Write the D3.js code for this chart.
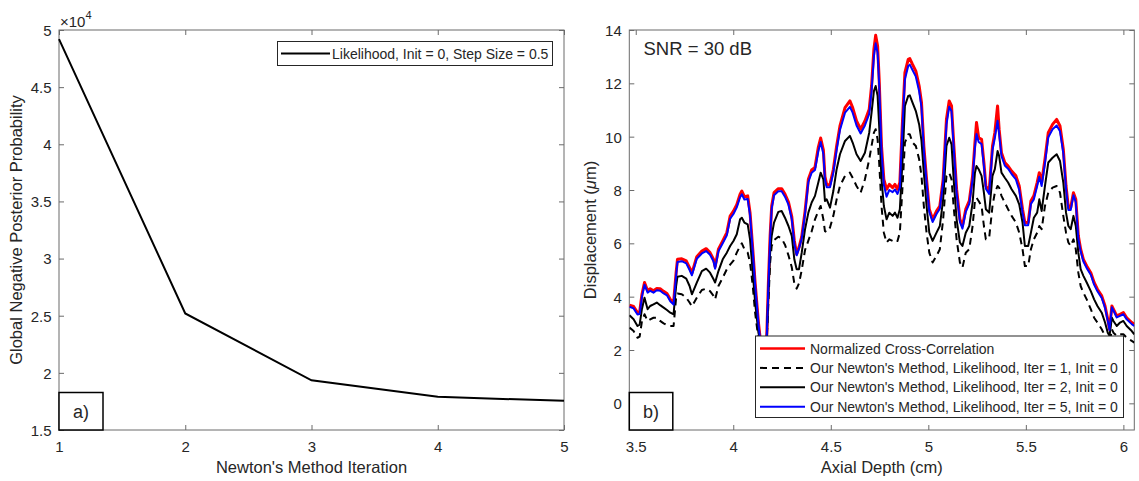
<!DOCTYPE html>
<html><head><meta charset="utf-8">
<script src="https://cdn.jsdelivr.net/npm/d3@7"></script>
<style>
body{margin:0;background:#fff}
text{font-family:"Liberation Sans",Arial,Helvetica,sans-serif;fill:#262626}
</style>
</head><body>
<svg id="chart" width="1139" height="481"></svg>
<script>
// ---------- Panel a) data ----------
const iterations = [1, 2, 3, 4, 5];
const negPosterior = [4.92, 2.52, 1.935, 1.79, 1.755]; // x 10^4
const aXTicks = [1, 2, 3, 4, 5];
const aYTicks = [1.5, 2, 2.5, 3, 3.5, 4, 4.5, 5];
const aLegend = ["Likelihood, Init = 0, Step Size = 0.5"];

// ---------- Panel b) data ----------
const depth = [3.468,3.489,3.509,3.520,3.532,3.545,3.561,3.574,3.591,3.608,3.625,3.643,3.660,3.677,3.694,3.707,3.714,3.736,3.759,3.776,3.788,3.813,3.839,3.861,3.881,3.899,3.907,3.924,3.946,3.967,3.984,4.001,4.018,4.035,4.044,4.057,4.074,4.086,4.100,4.112,4.129,4.137,4.150,4.160,4.172,4.180,4.189,4.197,4.209,4.231,4.248,4.265,4.283,4.300,4.313,4.325,4.337,4.351,4.368,4.385,4.402,4.419,4.436,4.448,4.462,4.470,4.479,
4.496,4.513,4.530,4.547,4.573,4.598,4.612,4.632,4.653,4.675,4.697,4.709,4.721,4.730,4.740,4.748,4.760,4.772,4.786,4.800,4.817,4.829,4.842,4.854,4.868,4.880,4.897,4.905,4.919,4.936,4.953,4.965,4.977,4.991,5.005,5.022,5.042,5.059,5.076,5.093,5.107,5.119,5.131,5.145,5.162,5.175,5.192,5.210,5.227,5.239,5.247,5.258,5.273,5.285,5.295,5.312,5.329,5.341,5.355,5.363,5.375,5.392,5.409,5.427,5.449,5.466,5.483,5.495,5.512,5.526,5.541,5.558,5.569,5.581,5.598,5.615,5.637,5.658,5.675,5.692,5.706,5.718,5.730,5.744,5.756,5.769,5.781,5.795,5.812,5.833,5.850,5.867,5.889,5.906,5.920,5.929,5.941,5.949,5.966,5.983,6.000,6.017,6.043,6.056];

const ncc = [3.68,3.63,3.40,3.42,4.09,4.53,4.22,4.30,4.22,4.31,4.30,4.20,4.12,3.90,3.78,4.90,5.40,5.42,5.34,5.09,4.88,5.50,5.71,5.80,5.65,5.40,5.12,5.78,6.09,6.40,7.02,7.21,7.45,7.84,7.96,7.75,7.78,7.15,5.78,4.53,3.03,2.50,1.20,1.20,2.60,4.50,6.30,7.40,7.90,8.05,8.05,7.85,7.55,7.00,6.10,5.60,5.85,6.25,7.20,8.40,8.75,8.85,9.60,9.95,9.50,8.50,8.20,
8.21,8.77,9.65,10.40,11.09,11.34,11.09,10.59,10.28,10.59,11.03,11.90,13.28,13.80,13.40,12.15,9.65,8.40,8.03,8.21,8.09,8.21,8.03,8.28,10.65,12.40,12.90,12.93,12.71,12.46,11.90,11.28,9.65,8.40,7.28,6.90,7.21,7.40,8.40,10.65,11.34,11.15,9.65,8.03,6.90,6.65,7.28,7.59,8.53,9.78,10.53,9.96,9.90,9.03,8.15,7.96,9.65,10.15,11.15,10.28,9.40,9.03,8.90,8.71,8.53,8.15,7.28,6.78,6.78,7.59,7.78,8.28,8.65,8.28,9.15,10.15,10.46,10.65,10.40,9.53,8.15,7.34,7.34,7.90,7.65,6.28,5.78,5.40,5.15,4.90,4.53,4.28,4.03,3.65,3.15,2.78,3.65,3.53,3.28,3.34,3.40,3.21,3.03,2.96];

const iter1 = [2.84,2.71,2.46,2.50,3.09,3.34,3.09,3.15,3.21,3.21,3.09,3.00,2.93,2.90,2.90,3.96,4.12,4.09,3.96,3.78,3.63,3.96,4.25,4.30,4.21,4.03,3.90,4.40,4.71,5.03,5.20,5.35,5.65,5.90,6.00,5.78,5.65,5.28,4.40,3.40,2.40,2.20,0.80,0.80,2.40,3.78,5.28,5.90,6.12,6.25,6.18,5.95,5.55,5.10,4.50,4.30,4.50,5.00,5.75,6.10,6.45,6.90,7.21,7.40,6.90,6.46,6.42,
6.59,7.03,7.65,8.15,8.53,8.65,8.46,8.15,7.90,8.40,9.15,9.65,10.15,10.28,9.90,9.03,7.40,6.40,6.03,6.15,6.09,6.15,6.09,6.40,8.15,9.78,10.09,10.09,9.78,9.65,9.15,8.53,7.40,6.40,5.65,5.28,5.53,5.78,6.90,8.53,8.65,8.40,7.28,6.15,5.28,5.09,5.65,5.78,6.65,7.59,7.71,7.59,7.40,6.65,6.15,6.21,7.40,7.90,8.15,8.09,7.78,7.53,7.28,7.03,6.78,6.40,5.78,5.15,5.15,5.78,6.15,6.40,6.65,6.53,7.40,7.90,8.09,8.15,7.90,7.03,6.40,6.03,5.90,6.15,5.78,4.90,4.40,4.15,3.90,3.53,3.21,3.03,2.78,2.53,2.28,2.21,2.78,2.65,2.53,2.59,2.59,2.46,2.34,2.28];

const iter2 = [3.30,3.15,2.90,2.95,3.55,3.96,3.53,3.65,3.71,3.78,3.68,3.59,3.50,3.40,3.34,4.40,4.75,4.78,4.68,4.40,4.09,4.53,4.96,5.05,4.90,4.65,4.53,4.96,5.40,5.65,5.90,6.09,6.34,6.90,6.96,6.78,6.71,6.15,4.90,3.78,2.65,2.35,1.00,1.00,2.50,4.15,5.65,6.28,6.78,7.18,7.21,6.96,6.65,6.28,5.40,5.03,5.03,5.65,6.53,7.15,7.53,7.78,8.28,8.65,8.40,7.59,7.65,
7.34,7.96,8.78,9.34,9.84,10.03,9.78,9.34,9.09,9.40,10.15,10.90,11.71,11.90,11.53,10.40,8.40,7.40,6.90,7.15,7.03,7.15,6.96,7.28,9.15,11.15,11.53,11.55,11.28,10.96,10.46,9.84,8.65,7.40,6.40,6.09,6.40,6.65,7.65,9.65,9.96,9.71,8.28,6.90,6.03,5.90,6.40,6.65,7.53,8.65,8.90,8.78,8.53,7.90,7.28,7.15,8.53,8.78,9.46,9.28,8.65,8.46,8.28,8.03,7.78,7.46,6.78,5.90,5.90,6.40,6.96,7.15,7.65,7.21,8.15,9.03,9.21,9.34,9.09,8.28,7.15,6.65,6.53,7.03,6.65,5.65,5.03,4.78,4.53,4.21,3.90,3.65,3.40,3.03,2.65,2.53,3.21,3.09,2.90,3.03,3.09,2.90,2.71,2.59];

const iter5 = [3.62,3.56,3.33,3.35,4.00,4.45,4.15,4.22,4.15,4.24,4.22,4.12,4.05,3.83,3.70,4.80,5.30,5.33,5.25,5.00,4.80,5.42,5.62,5.71,5.57,5.32,5.05,5.70,6.00,6.30,6.92,7.10,7.35,7.73,7.84,7.64,7.66,7.05,5.70,4.45,2.98,2.45,1.20,1.20,2.55,4.40,6.20,7.30,7.80,7.95,7.95,7.75,7.45,6.90,6.00,5.55,5.80,6.18,7.10,8.30,8.65,8.75,9.45,9.80,9.35,8.40,8.10,
8.10,8.65,9.50,10.25,10.90,11.12,10.90,10.42,10.12,10.42,10.85,11.70,13.00,13.50,13.15,11.95,9.50,8.20,7.75,8.00,7.92,8.02,7.85,8.10,10.45,12.15,12.65,12.70,12.50,12.25,11.70,11.10,9.50,8.28,7.18,6.80,7.10,7.30,8.28,10.45,11.12,10.95,9.50,7.90,6.80,6.55,7.18,7.48,8.40,9.60,10.10,9.80,9.72,8.90,8.05,7.85,9.50,9.95,10.60,10.10,9.28,8.92,8.80,8.60,8.40,8.00,7.15,6.68,6.68,7.48,7.65,8.15,8.50,8.15,9.00,9.98,10.28,10.42,10.20,9.38,8.05,7.25,7.25,7.80,7.55,6.18,5.70,5.32,5.07,4.82,4.45,4.20,3.95,3.58,3.10,2.75,3.60,3.48,3.22,3.28,3.34,3.15,2.97,2.90];

const bXTicks = [3.5, 4, 4.5, 5, 5.5, 6];
const bYTicks = [0, 2, 4, 6, 8, 10, 12, 14];
const bLegend = ["Normalized Cross-Correlation",
  "Our Newton's Method, Likelihood, Iter = 1, Init = 0",
  "Our Newton's Method, Likelihood, Iter = 2, Init = 0",
  "Our Newton's Method, Likelihood, Iter = 5, Init = 0"];

// ---------- Drawing ----------
const svg = d3.select("#chart");
const AX = "#6b6b6b";
const TICK = 5;

function frame(g, x0, y0, w, h, xs, ys, xt, yt, xfmt, yfmt) {
  const bottom = g.append("g").attr("transform", `translate(0,${y0 + h})`)
    .call(d3.axisBottom(xs).tickValues(xt).tickSize(-TICK).tickFormat(xfmt));
  bottom.select(".domain").remove();
  bottom.selectAll("line").attr("stroke", AX);
  bottom.selectAll("text").attr("y", 22).attr("dy", 0).style("font-size", "15px").attr("fill", "#262626");
  const top = g.append("g").attr("transform", `translate(0,${y0})`)
    .call(d3.axisTop(xs).tickValues(xt).tickSize(-TICK).tickFormat(""));
  top.select(".domain").remove();
  top.selectAll("line").attr("stroke", AX);
  const left = g.append("g").attr("transform", `translate(${x0},0)`)
    .call(d3.axisLeft(ys).tickValues(yt).tickSize(-TICK).tickFormat(yfmt));
  left.select(".domain").remove();
  left.selectAll("line").attr("stroke", AX);
  left.selectAll("text").attr("x", -7.5).attr("dy", "0.36em").style("font-size", "15px").attr("fill", "#262626");
  const right = g.append("g").attr("transform", `translate(${x0 + w},0)`)
    .call(d3.axisRight(ys).tickValues(yt).tickSize(-TICK).tickFormat(""));
  right.select(".domain").remove();
  right.selectAll("line").attr("stroke", AX);
  g.append("rect").attr("x", x0).attr("y", y0).attr("width", w).attr("height", h)
    .attr("fill", "none").attr("stroke", AX).attr("stroke-width", 1);
}

// ---- Panel a ----
{
  const x0 = 59, y0 = 30, w = 505, h = 400;
  const xs = d3.scaleLinear().domain([1, 5]).range([x0, x0 + w]);
  const ys = d3.scaleLinear().domain([1.5, 5]).range([y0 + h, y0]);
  const g = svg.append("g");
  frame(g, x0, y0, w, h, xs, ys, aXTicks, aYTicks, d3.format("d"), d => String(d));
  const pts = iterations.map((d, i) => [d, negPosterior[i]]);
  g.append("path").datum(pts)
    .attr("d", d3.line().x(d => xs(d[0])).y(d => ys(d[1])))
    .attr("fill", "none").attr("stroke", "#000").attr("stroke-width", 2);
  // exponent
  const ex = g.append("text").attr("x", 60).attr("y", 26.5).style("font-size", "15px");
  ex.append("tspan").text("\u00d710");
  ex.append("tspan").attr("dy", -8).style("font-size", "11px").text("4");
  // legend
  g.append("rect").attr("x", 277.5).attr("y", 41.5).attr("width", 275).attr("height", 24)
    .attr("fill", "#fff").attr("stroke", "#262626").attr("stroke-width", 1);
  g.append("line").attr("x1", 281).attr("x2", 330).attr("y1", 53.5).attr("y2", 53.5)
    .attr("stroke", "#000").attr("stroke-width", 2);
  g.append("text").attr("x", 332).attr("y", 58.5).style("font-size", "14px").text(aLegend[0]);
  // a) box
  g.append("rect").attr("x", 59).attr("y", 392.5).attr("width", 44).attr("height", 37.5)
    .attr("fill", "#fff").attr("stroke", "#000").attr("stroke-width", 1.5);
  g.append("text").attr("x", 81).attr("y", 418).attr("text-anchor", "middle").style("font-size", "18px").text("a)");
  // axis labels
  g.append("text").attr("x", x0 + w / 2).attr("y", 473).attr("text-anchor", "middle")
    .style("font-size", "16.5px").text("Newton's Method Iteration");
  g.append("text").attr("transform", `translate(22,${y0 + h / 2}) rotate(-90)`).attr("text-anchor", "middle")
    .style("font-size", "16.5px").text("Global Negative Posterior Probability");
}

// ---- Panel b ----
{
  const x0 = 629.3, y0 = 30, w = 505, h = 400;
  const xs = d3.scaleLinear().domain([3.467, 6.056]).range([x0, x0 + w]);
  const ys = d3.scaleLinear().domain([-1, 14]).range([y0 + h, y0]);
  const g = svg.append("g");
  svg.append("defs").append("clipPath").attr("id", "clipb").append("rect")
    .attr("x", x0).attr("y", y0).attr("width", w).attr("height", h);
  frame(g, x0, y0, w, h, xs, ys, bXTicks, bYTicks, d => String(d), d => String(d));
  const line = d3.line().x(d => xs(d[0])).y(d => ys(d[1]));
  const series = [
    {v: ncc, c: "#ff0000", w: 3, dash: null},
    {v: iter1, c: "#000", w: 2, dash: "7,5"},
    {v: iter2, c: "#000", w: 2, dash: null},
    {v: iter5, c: "#0000ff", w: 2, dash: null}
  ];
  const lg = g.append("g").attr("clip-path", "url(#clipb)");
  series.forEach(s => {
    lg.append("path").datum(depth.map((d, i) => [d, s.v[i]]))
      .attr("d", line).attr("fill", "none").attr("stroke", s.c).attr("stroke-width", s.w)
      .attr("stroke-linejoin", "round")
      .attr("stroke-dasharray", s.dash);
  });
  // SNR
  g.append("text").attr("x", 643.5).attr("y", 55).style("font-size", "18.5px").attr("fill", "#000").text("SNR = 30 dB");
  // legend
  g.append("rect").attr("x", 755.5).attr("y", 336).attr("width", 368).attr("height", 81.5)
    .attr("fill", "#fff").attr("stroke", "#262626").attr("stroke-width", 1);
  bLegend.forEach((t, i) => {
    const yy = 348.5 + i * 19.4;
    const s = series[i];
    g.append("line").attr("x1", 760).attr("x2", 805).attr("y1", yy).attr("y2", yy)
      .attr("stroke", s.c).attr("stroke-width", s.w === 3 ? 2.5 : 2).attr("stroke-dasharray", s.dash);
    g.append("text").attr("x", 810).attr("y", yy + 5).style("font-size", "14px").text(t);
  });
  // b) box
  g.append("rect").attr("x", 629.3).attr("y", 392.5).attr("width", 43.5).attr("height", 37.5)
    .attr("fill", "#fff").attr("stroke", "#000").attr("stroke-width", 1.5);
  g.append("text").attr("x", 651).attr("y", 418).attr("text-anchor", "middle").style("font-size", "18px").text("b)");
  // axis labels
  g.append("text").attr("x", x0 + w / 2).attr("y", 473).attr("text-anchor", "middle")
    .style("font-size", "16.5px").text("Axial Depth (cm)");
  const yl = g.append("text").attr("transform", `translate(596,${y0 + h / 2}) rotate(-90)`).attr("text-anchor", "middle")
    .style("font-size", "16.5px");
  yl.append("tspan").text("Displacement (");
  yl.append("tspan").style("font-style", "italic").text("\u03bc");
  yl.append("tspan").text("m)");
}
</script>
</body></html>
